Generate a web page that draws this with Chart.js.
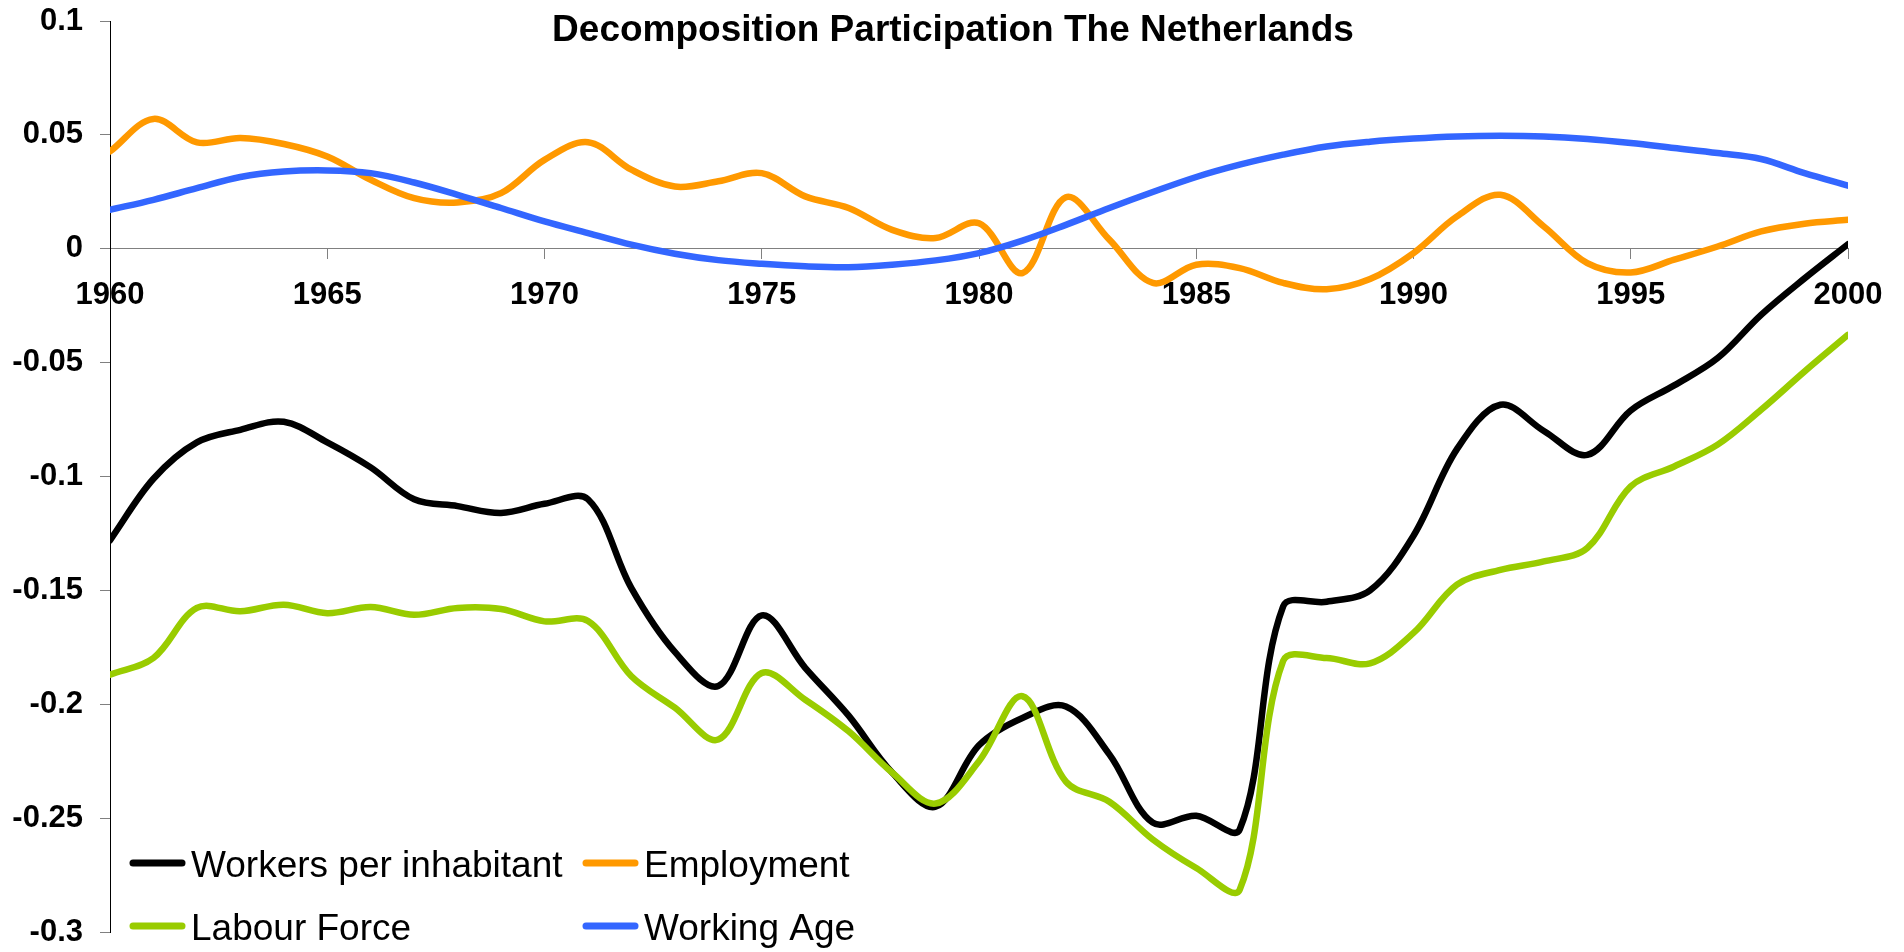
<!DOCTYPE html>
<html>
<head>
<meta charset="utf-8">
<script src="https://cdn.jsdelivr.net/npm/chart.js@4.4.1/dist/chart.umd.min.js"></script>
<style>
html,body{margin:0;padding:0;background:#ffffff;overflow:hidden}
#wrap{position:relative;width:1904px;height:952px}
</style>
</head>
<body>
<div id="wrap"><canvas id="c" width="1904" height="952"></canvas></div>
<script>
const titleText = 'Decomposition Participation The Netherlands';

const years = [1960,1961,1962,1963,1964,1965,1966,1967,1968,1969,
               1970,1971,1972,1973,1974,1975,1976,1977,1978,1979,
               1980,1981,1982,1983,1984,1985,1986,1987,1988,1989,
               1990,1991,1992,1993,1994,1995,1996,1997,1998,1999,2000];

const workersPerInhabitant = [-0.128,-0.101,-0.085,-0.0795,-0.076,-0.085,-0.096,-0.110,-0.113,-0.116,
                              -0.112,-0.110,-0.149,-0.177,-0.192,-0.161,-0.184,-0.205,-0.230,-0.245,
                              -0.218,-0.206,-0.201,-0.222,-0.252,-0.249,-0.255,-0.157,-0.155,-0.150,
                              -0.126,-0.088,-0.0685,-0.080,-0.0905,-0.071,-0.060,-0.048,-0.029,-0.013,0.002];

const employment = [0.0427,0.057,0.0467,0.0486,0.046,0.0405,0.0303,0.0222,0.0203,0.0244,
                    0.039,0.0468,0.0347,0.0273,0.0296,0.0332,0.023,0.0179,0.0083,0.0047,
                    0.0112,-0.0107,0.0226,0.004,-0.015,-0.007,-0.0085,-0.015,-0.0178,-0.0133,
                    -0.0019,0.0142,0.0237,0.0098,-0.0063,-0.0104,-0.0048,0.001,0.0076,0.011,0.0127];

const labourForce = [-0.187,-0.1797,-0.1577,-0.1592,-0.1563,-0.160,-0.1573,-0.1607,-0.1577,-0.1582,
                     -0.1636,-0.1635,-0.1877,-0.2015,-0.2155,-0.1863,-0.198,-0.2119,-0.230,-0.2436,
                     -0.225,-0.1965,-0.234,-0.2428,-0.2594,-0.2719,-0.2814,-0.181,-0.1797,-0.182,
                     -0.1687,-0.1475,-0.141,-0.1373,-0.1314,-0.1043,-0.0956,-0.086,-0.0707,-0.0539,-0.0378];

const workingAge = [0.0171,0.0215,0.0266,0.0315,0.0339,0.0344,0.0332,0.0291,0.0237,0.0179,
                    0.012,0.0069,0.0018,-0.0022,-0.0050,-0.0066,-0.0077,-0.0081,-0.007,-0.0051,
                    -0.0019,0.0036,0.0105,0.0179,0.0249,0.0315,0.0369,0.0413,0.0449,0.0470,
                    0.0484,0.0493,0.0496,0.0493,0.0482,0.0464,0.0442,0.042,0.0394,0.0332,0.0277];

const xTickValues = [1960,1965,1970,1975,1980,1985,1990,1995,2000];
const xTickLabels = ['1960','1965','1970','1975','1980','1985','1990','1995','2000'];
const yTickValues = [0.1,0.05,0,-0.05,-0.1,-0.15,-0.2,-0.25,-0.3];
const yTickLabels = ['0.1','0.05','0','-0.05','-0.1','-0.15','-0.2','-0.25','-0.3'];

const seriesNames = ['Workers per inhabitant','Employment','Labour Force','Working Age'];
const seriesColors = ['#000000','#FF9900','#99CC00','#3366FF'];
const seriesValues = [workersPerInhabitant, employment, labourForce, workingAge];
const seriesDrawOrder = [4,3,2,1];
const legendRows = [[0,1],[2,3]];

const FONT = '"Liberation Sans", Arial, Helvetica, sans-serif';

const datasets = seriesNames.map((name, i) => ({
  label: name,
  data: years.map((yr, j) => ({x: yr, y: seriesValues[i][j]})),
  borderColor: seriesColors[i],
  backgroundColor: seriesColors[i],
  borderWidth: 6.5,
  pointRadius: 0,
  pointHoverRadius: 0,
  tension: 0.35,
  fill: false,
  order: seriesDrawOrder[i],
  borderCapStyle: 'round',
  borderJoinStyle: 'round'
}));

const overlayPlugin = {
  id: 'overlay',
  afterDraw(chart) {
    const ctx = chart.ctx;
    ctx.save();
    ctx.fillStyle = '#000000';
    ctx.font = 'bold 37px ' + FONT;
    ctx.textAlign = 'center';
    ctx.textBaseline = 'alphabetic';
    ctx.fillText(titleText, 953, 41);
    const colX = [130, 583];
    const rowBase = [877, 940];
    ctx.font = '37px ' + FONT;
    ctx.textAlign = 'left';
    legendRows.forEach((row, r) => {
      row.forEach((idx, c) => {
        const ds = chart.data.datasets[idx];
        const x0 = colX[c];
        const yb = rowBase[r];
        ctx.strokeStyle = ds.borderColor;
        ctx.lineWidth = 7;
        ctx.lineCap = 'round';
        ctx.beginPath();
        ctx.moveTo(x0 + 3, yb - 14);
        ctx.lineTo(x0 + 52, yb - 14);
        ctx.stroke();
        ctx.fillStyle = '#000000';
        ctx.fillText(ds.label, x0 + 61, yb);
      });
    });
    ctx.restore();
  }
};

new Chart(document.getElementById('c'), {
  type: 'line',
  data: { datasets },
  options: {
    responsive: false,
    animation: false,
    devicePixelRatio: 1,
    layout: { padding: { left: 0, top: 21, right: 56, bottom: 20 } },
    plugins: {
      legend: { display: false },
      title: { display: false },
      tooltip: { enabled: false }
    },
    scales: {
      x: {
        type: 'linear',
        position: { y: 0 },
        min: 1960,
        max: 2000,
        afterBuildTicks: (s) => { s.ticks = xTickValues.map(v => ({ value: v })); },
        afterFit: (s) => { s.paddingLeft = 0; s.paddingRight = 0; },
        ticks: {
          callback: (v) => xTickLabels[xTickValues.indexOf(v)],
          font: { family: FONT, size: 31, weight: 'bold' },
          color: '#000000',
          padding: 18,
          maxRotation: 0,
          autoSkip: false
        },
        grid: { drawOnChartArea: false, drawTicks: true, tickLength: 10, tickColor: '#808080', tickWidth: 1 },
        border: { display: true, color: '#808080', width: 1 }
      },
      y: {
        type: 'linear',
        position: 'left',
        min: -0.3,
        max: 0.1,
        afterBuildTicks: (s) => { s.ticks = yTickValues.map(v => ({ value: v })); },
        afterFit: (s) => { s.width = 110; s.paddingTop = 0; s.paddingBottom = 0; },
        ticks: {
          callback: (v) => yTickLabels[yTickValues.findIndex(t => Math.abs(t - v) < 1e-9)],
          font: { family: FONT, size: 31, weight: 'bold' },
          color: '#000000',
          padding: 17
        },
        grid: { drawOnChartArea: false, drawTicks: true, tickLength: 10, tickColor: '#808080', tickWidth: 1 },
        border: { display: true, color: '#000000', width: 1 }
      }
    }
  },
  plugins: [overlayPlugin]
});
</script>
</body>
</html>
